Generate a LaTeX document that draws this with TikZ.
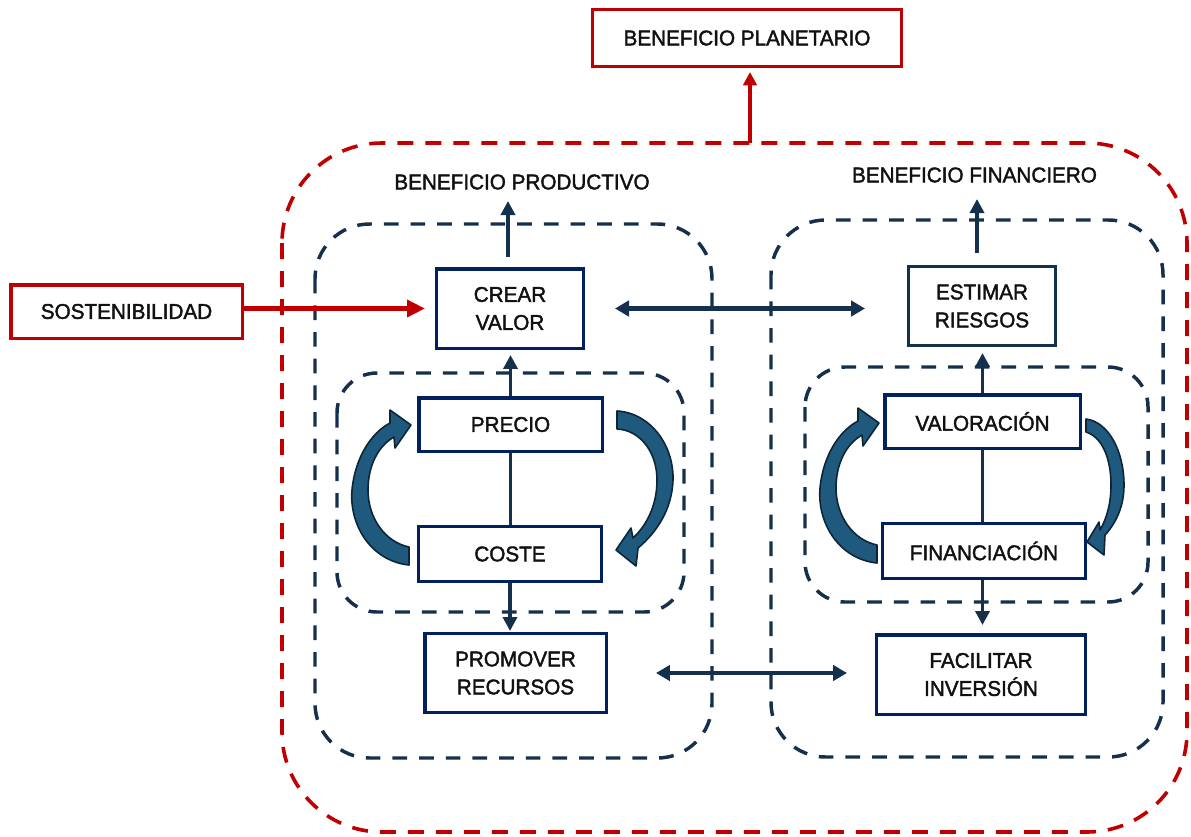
\documentclass[tikz,border=0pt]{standalone}
\usepackage{fontspec}
\setmainfont{Liberation Sans}[FakeBold=1.8,FakeStretch=0.97]
\usetikzlibrary{arrows.meta,calc}
\definecolor{redc}{HTML}{C00000}
\definecolor{navy}{HTML}{002060}
\definecolor{slate}{HTML}{15304C}
\definecolor{cfill}{HTML}{1F5A7E}
\definecolor{cline}{HTML}{0C2638}
\definecolor{txt}{HTML}{111111}
\begin{document}
\begin{tikzpicture}[x=0.75pt,y=-0.75pt,
  box/.style={draw=navy, line width=2.6pt, fill=white, text=txt, font=\fontsize{16}{21}\selectfont, align=center, inner sep=0pt},
  redbox/.style={box, draw=redc, line width=2.6pt},
  lbl/.style={text=txt, font=\fontsize{16}{21}\selectfont, inner sep=0pt},
  dashbox/.style={draw=slate, line width=2.6pt, dash pattern=on 11pt off 9pt},
  reddash/.style={draw=redc, line width=2.7pt, dash pattern=on 12pt off 9pt},
  conn/.style={draw=slate, line width=2.6pt, -{Triangle[length=10.5pt,width=10.5pt]}},
  plainln/.style={draw=slate, line width=2.6pt},
  dconn/.style={draw=slate, line width=3.4pt, {Triangle[length=10.5pt,width=11.5pt]}-{Triangle[length=10.5pt,width=11.5pt]}},
  redarrow/.style={draw=redc, line width=4.2pt, -{Triangle[length=13.5pt,width=12.5pt]}},
  redup/.style={draw=redc, line width=3.2pt, -{Triangle[length=10pt,width=10pt]}},
  curv/.style={fill=cfill, draw=cline, line width=1.2pt, line join=round}
]
\useasboundingbox (0,0) rectangle (1191,836);
\fill[white] (0,0) rectangle (1191,836);

% dashed containers
\draw[reddash, rounded corners=75pt] (282,143) rectangle (1187,832);
\draw[dashbox, rounded corners=41pt] (315,224) rectangle (712,758);
\draw[dashbox, rounded corners=41pt] (771,220) rectangle (1163,757);
\draw[dashbox, rounded corners=30pt] (337,373) rectangle (684,612);
\draw[dashbox, rounded corners=30pt] (805,367) rectangle (1148,602);

% nodes
\node[redbox, minimum width=231.4pt, minimum height=42.4pt] (plan) at (747,38) {BENEFICIO PLANETARIO};
\node[redbox, minimum width=173.6pt, minimum height=40.1pt] (sosten) at (126.5,311.5) {SOSTENIBILIDAD};
\node[box, minimum width=109.9pt, minimum height=59.6pt] (crear) at (510,308.5) {CREAR\\VALOR};
\node[box, draw=slate, minimum width=109.9pt, minimum height=58.9pt] (estimar) at (982,306) {ESTIMAR\\RIESGOS};
\node[box, minimum width=137.6pt, minimum height=40.1pt] (precio) at (510.5,424.5) {PRECIO};
\node[box, minimum width=136.9pt, minimum height=40.9pt] (coste) at (510,554) {COSTE};
\node[box, minimum width=146.6pt, minimum height=40.1pt] (valor) at (982.5,421.5) {VALORACIÓN};
\node[box, minimum width=151.9pt, minimum height=40.9pt] (financ) at (984,551) {FINANCIACIÓN};
\node[box, minimum width=136.1pt, minimum height=58.9pt] (promover) at (515.5,673) {PROMOVER\\RECURSOS};
\node[box, minimum width=156.4pt, minimum height=59.6pt] (facilitar) at (981,674.5) {FACILITAR\\INVERSIÓN};
\node[lbl] (prod) at (522,182) {BENEFICIO PRODUCTIVO};
\node[lbl] (fin) at (974.5,175) {BENEFICIO FINANCIERO};

% coordinates for free ends
\coordinate (otop) at (750,143);
\coordinate (pt) at (508,201);
\coordinate (ft) at (977,199);

% connectors
\draw[redup, shorten >=3pt] (otop) -- (otop |- plan.south);
\draw[redarrow, shorten >=7.5pt] (sosten.east |- crear.west) -- (crear.west);
\draw[conn, shorten <=7.5pt] (pt |- crear.north) -- (pt);
\draw[conn, shorten <=9pt] (ft |- estimar.north) -- (ft);
\draw[conn, shorten >=3.75pt] (precio.north) -- (precio.north |- crear.south);
\draw[plainln] (precio.south) -- (precio.south |- coste.north);
\draw[conn, shorten >=0.75pt] (coste.south) -- (coste.south |- promover.north);
\draw[conn, shorten >=4.5pt] (valor.north) -- (valor.north |- estimar.south);
\draw[plainln] (valor.south) -- (valor.south |- financ.north);
\draw[conn, shorten >=6pt] (financ.south -| valor.south) -- (valor.south |- facilitar.north);
\draw[dconn, shorten <=22.5pt, shorten >=31.5pt] (crear.east) -- (crear.east -| estimar.west);
\draw[dconn, shorten <=36pt, shorten >=21pt] (promover.east) -- (promover.east -| facilitar.west);

% curved cycle arrows
\path[curv] (409,565) .. controls (371,561) and (349,525) .. (352,490)
  .. controls (355,458) and (371,433) .. (390,423)
  -- (390,410) -- (411,425) -- (395,448) -- (394,437)
  .. controls (378,446) and (368,466) .. (368,490)
  .. controls (368,518) and (385,542) .. (409,547) -- cycle;
\path[curv] (617,411) .. controls (651,413) and (674,446) .. (673,480)
  .. controls (672,510) and (656,533) .. (638,548)
  -- (636,566) -- (616,550) -- (631,528) -- (633,538)
  .. controls (647,525) and (657,505) .. (657,480)
  .. controls (657,452) and (640,430) .. (617,429) -- cycle;
\begin{scope}[shift={(468,-2)}]
\path[curv] (409,565) .. controls (371,561) and (349,525) .. (352,490)
  .. controls (355,458) and (371,433) .. (390,423)
  -- (390,410) -- (411,425) -- (395,448) -- (394,437)
  .. controls (378,446) and (368,466) .. (368,490)
  .. controls (368,518) and (385,542) .. (409,547) -- cycle;
\end{scope}
\path[curv] (1086,419) .. controls (1109,422) and (1124,452) .. (1124,485)
  .. controls (1124,508) and (1115,524) .. (1105,535)
  -- (1104,555) -- (1087,542) -- (1099,522) -- (1100,530)
  .. controls (1107,518) and (1111,503) .. (1111,485)
  .. controls (1111,458) and (1102,437) .. (1086,432) -- cycle;
\end{tikzpicture}
\end{document}
